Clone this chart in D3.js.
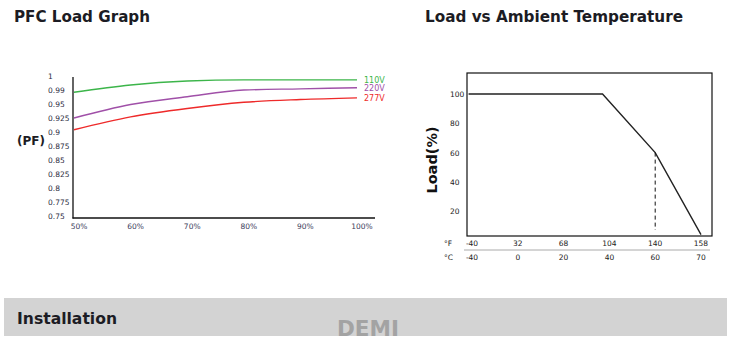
<!DOCTYPE html>
<html><head><meta charset="utf-8">
<script src="https://cdn.jsdelivr.net/npm/d3@7"></script>
<style>body{margin:0;background:#fff}svg{display:block}</style>
</head><body>
<svg id="c" width="733" height="339"></svg>
<script>
// ---- PFC Load Graph data ----
const loadPct = [50, 60, 70, 80, 90, 100];
const loadLabels = ["50%", "60%", "70%", "80%", "90%", "100%"];
const pfTickValues = [0.75, 0.775, 0.8, 0.825, 0.85, 0.875, 0.9, 0.925, 0.95, 0.975, 1];
const pfTickLabels = ["0.75", "0.775", "0.8", "0.825", "0.85", "0.875", "0.9", "0.925", "0.95", "0.99", "1"];
const seriesNames = ["110V", "220V", "277V"];
const pf110 = [0.971, 0.984, 0.991, 0.993, 0.993, 0.993];
const pf220 = [0.925, 0.949, 0.963, 0.975, 0.977, 0.979];
const pf277 = [0.904, 0.927, 0.942, 0.953, 0.958, 0.961];
const seriesColors = ["#3cb54a", "#a050a8", "#ee2a2a"];

// ---- Load vs Ambient Temperature data ----
const tempF = ["-40", "32", "68", "104", "140", "158"];
const tempC = [-40, 0, 20, 40, 60, 70];
const deratePts = [[-43, 100], [37, 100], [60, 60], [70, 4]];
const dashedAt = [60, 60];
const loadTicks = [20, 40, 60, 80, 100];

const svg = d3.select("#c");
const FONT = "'DejaVu Sans', Verdana, sans-serif";

// Titles
svg.append("text").attr("x", 14).attr("y", 22).text("PFC Load Graph")
  .attr("font-family", FONT).attr("font-weight", "bold").attr("font-size", 15.5)
  .attr("fill", "#1c1c24").attr("textLength", 136).attr("lengthAdjust", "spacingAndGlyphs");
svg.append("text").attr("x", 425).attr("y", 22).text("Load vs Ambient Temperature")
  .attr("font-family", FONT).attr("font-weight", "bold").attr("font-size", 15.5)
  .attr("fill", "#1c1c24").attr("textLength", 258).attr("lengthAdjust", "spacingAndGlyphs");

// ---- Left chart ----
const xL = d3.scaleLinear().domain([50, 100]).range([74, 357]);
const yL = d3.scaleLinear().domain([0.75, 1]).range([216, 76]);
const gL = svg.append("g");
gL.append("line").attr("x1", 73).attr("x2", 73).attr("y1", 77).attr("y2", 218.5).attr("stroke", "#111").attr("stroke-width", 1.3);
gL.append("line").attr("x1", 72.5).attr("x2", 375).attr("y1", 218).attr("y2", 218).attr("stroke", "#111").attr("stroke-width", 1.3);
gL.selectAll("text.yt").data(pfTickValues).join("text").attr("class", "yt")
  .attr("x", 48).attr("y", d => yL(d) + 3)
  .text((d, i) => pfTickLabels[i])
  .attr("font-family", FONT).attr("font-size", 7.5).attr("fill", "#2a2a40");
gL.selectAll("text.xt").data(loadPct).join("text").attr("class", "xt")
  .attr("x", d => xL(d) + 5).attr("y", 229).attr("text-anchor", "middle")
  .text((d, i) => loadLabels[i])
  .attr("font-family", FONT).attr("font-size", 7.5).attr("fill", "#3a3a5a");
gL.append("text").attr("x", 17).attr("y", 145).text("(PF)")
  .attr("font-family", FONT).attr("font-weight", "bold").attr("font-size", 12).attr("fill", "#1c1c24");
const lineL = d3.line().x((d, i) => xL(loadPct[i])).y(d => yL(d)).curve(d3.curveMonotoneX);
[pf110, pf220, pf277].forEach((s, k) => {
  gL.append("path").attr("d", lineL(s)).attr("fill", "none")
    .attr("stroke", seriesColors[k]).attr("stroke-width", 1.4);
  gL.append("text").attr("x", 364).attr("y", yL(s[s.length - 1]) + 3)
    .text(seriesNames[k]).attr("font-family", FONT).attr("font-size", 8)
    .attr("fill", seriesColors[k]);
});

// ---- Right chart ----
const xIdx = d3.scalePoint().domain(d3.range(tempC.length)).range([472, 701]);
const xR = d3.scaleLinear().domain(tempC).range(tempC.map((d, i) => xIdx(i)));
const yR = d3.scaleLinear().domain([0, 100]).range([240.5, 94]);
const gR = svg.append("g");
gR.append("rect").attr("x", 467).attr("y", 73).attr("width", 245).attr("height", 163)
  .attr("fill", "none").attr("stroke", "#111").attr("stroke-width", 1.2);
gR.selectAll("text.ly").data(loadTicks).join("text").attr("class", "ly")
  .attr("x", 450).attr("y", d => yR(d) + 3).text(d => d)
  .attr("font-family", FONT).attr("font-size", 7.5).attr("fill", "#222");
gR.append("path").attr("d", d3.line().x(d => xR(d[0])).y(d => yR(d[1]))(deratePts))
  .attr("fill", "none").attr("stroke", "#222").attr("stroke-width", 1.4);
gR.append("line").attr("x1", xR(dashedAt[0])).attr("x2", xR(dashedAt[0]))
  .attr("y1", yR(dashedAt[1])).attr("y2", 230)
  .attr("stroke", "#111").attr("stroke-width", 1).attr("stroke-dasharray", "4,3");
gR.append("line").attr("x1", 464).attr("x2", 710).attr("y1", 250).attr("y2", 250)
  .attr("stroke", "#aaa").attr("stroke-width", 1);
gR.selectAll("text.tf").data(tempF).join("text").attr("class", "tf")
  .attr("x", (d, i) => xIdx(i)).attr("y", 246).attr("text-anchor", "middle").text(d => d)
  .attr("font-family", FONT).attr("font-size", 7.5).attr("fill", "#222");
gR.selectAll("text.tc").data(tempC).join("text").attr("class", "tc")
  .attr("x", (d, i) => xIdx(i)).attr("y", 260).attr("text-anchor", "middle").text(d => d)
  .attr("font-family", FONT).attr("font-size", 7.5).attr("fill", "#222");
gR.append("text").attr("x", 444).attr("y", 246).text("°F")
  .attr("font-family", FONT).attr("font-size", 7.5).attr("fill", "#222");
gR.append("text").attr("x", 444).attr("y", 260).text("°C")
  .attr("font-family", FONT).attr("font-size", 7.5).attr("fill", "#222");
gR.append("text").attr("transform", "translate(437,160) rotate(-90)")
  .attr("text-anchor", "middle").text("Load(%)")
  .attr("font-family", FONT).attr("font-weight", "bold").attr("font-size", 14.5).attr("fill", "#111");

// ---- Bottom band ----
svg.append("rect").attr("x", 4).attr("y", 298).attr("width", 723).attr("height", 38).attr("fill", "#d3d3d3");
svg.append("text").attr("x", 17).attr("y", 324).text("Installation")
  .attr("font-family", FONT).attr("font-weight", "bold").attr("font-size", 15)
  .attr("fill", "#1c1c24").attr("textLength", 100).attr("lengthAdjust", "spacingAndGlyphs");
svg.append("text").attr("x", 337).attr("y", 336).text("DEMI")
  .attr("font-family", FONT).attr("font-weight", "bold").attr("font-size", 22)
  .attr("fill", "#a3a3a3").attr("textLength", 62).attr("lengthAdjust", "spacingAndGlyphs");
</script>
</body></html>
